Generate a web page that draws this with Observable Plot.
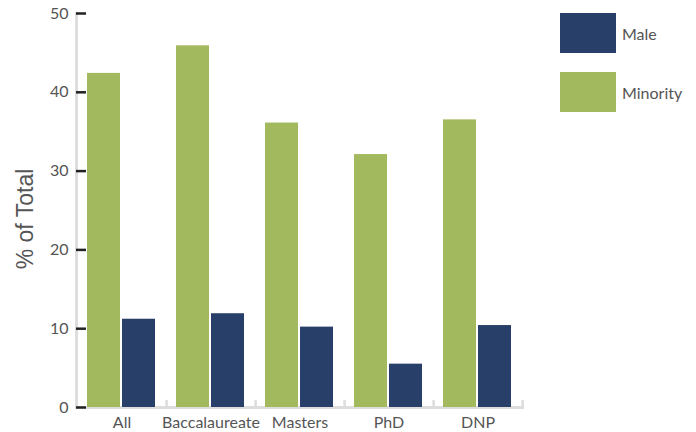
<!DOCTYPE html>
<html><head><meta charset="utf-8">
<script src="https://cdn.jsdelivr.net/npm/d3@7"></script>
<script src="https://cdn.jsdelivr.net/npm/@observablehq/plot@0.6"></script>
<style>
body{margin:0;background:#fff;font-family:Lato,sans-serif;}
#wrap{position:relative;width:696px;height:432px;}
.leg{position:absolute;left:560px;display:flex;align-items:center;font-size:16px;color:#555;}
.sw{width:56px;height:40px;margin-right:6px;}
</style></head><body>
<div id="wrap"></div>
<script>
const categories = ["All","Baccalaureate","Masters","PhD","DNP"];
const minority = [42.4, 45.9, 36.1, 32.1, 36.5];
const male = [11.2, 11.9, 10.2, 5.5, 10.4];
const yTicks = [0,10,20,30,40,50];
const seriesNames = ["Male","Minority"];
const colors = {Male:"#283f6a", Minority:"#a3b95e"};

const minData = categories.map((c,i)=>({cat:c, v:minority[i]}));
const maleData = categories.map((c,i)=>({cat:c, v:male[i]}));

const chart = Plot.plot({
  width:696, height:432,
  marginLeft:76, marginRight:174, marginTop:13, marginBottom:25,
  style:{fontFamily:"Lato, sans-serif", fontSize:"16px", color:"#555", background:"#fff"},
  x:{domain:categories, padding:0, axis:null, label:null},
  y:{domain:[0,50], axis:null, label:null},
  marks:[
    Plot.frame({anchor:"left", stroke:"#ddd", strokeWidth:3}),
    Plot.frame({anchor:"bottom", stroke:"#ddd", strokeWidth:3}),
    Plot.ruleX(categories,{x:d=>d, dx:44.6, y1:0, y2:0.9, stroke:"#ddd", strokeWidth:2.5}),
    Plot.barY(minData,{x:"cat", y:"v", fill:colors.Minority, insetLeft:10, insetRight:46}),
    Plot.barY(maleData,{x:"cat", y:"v", fill:colors.Male, insetLeft:45, insetRight:11}),
    Plot.ruleY(yTicks,{stroke:"#222", strokeWidth:2.5, insetRight:436}),
    Plot.axisY({ticks:yTicks, tickSize:0, tickPadding:8, fill:"#555", fontSize:16, label:null}),
    Plot.axisX({tickSize:0, tickPadding:9, fill:"#555", fontSize:16, label:null})
  ]
});
const wrap = document.getElementById("wrap");
wrap.appendChild(chart);
// y-axis title
const title = document.createElement("div");
title.textContent = "% of Total";
title.style.cssText = "position:absolute;left:25px;top:219px;transform:translate(-50%,-50%) rotate(-90deg);font-family:'Liberation Sans',Arial,sans-serif;font-size:23px;color:#555;white-space:nowrap;line-height:1;";
wrap.appendChild(title);
// legend
const tops = {Male:13, Minority:72};
seriesNames.forEach(n=>{
  const d = document.createElement("div");
  d.className="leg"; d.style.top = tops[n]+"px";
  d.innerHTML = `<div class="sw" style="background:${colors[n]}"></div><span>${n}</span>`;
  wrap.appendChild(d);
});
</script>
</body></html>
